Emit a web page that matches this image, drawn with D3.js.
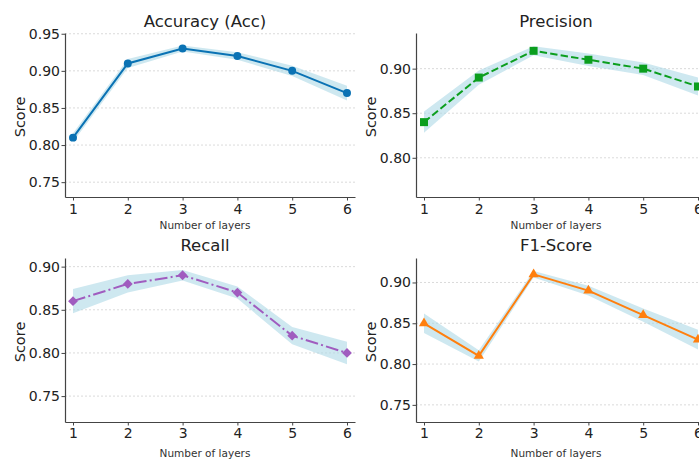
<!DOCTYPE html>
<html lang="en">
<head>
<meta charset="UTF-8">
<title>Metrics vs layers</title>
<script src="https://cdnjs.cloudflare.com/ajax/libs/d3/7.8.5/d3.min.js"></script>
<style>
body { margin: 0; background: #fff; }
text { font-family: "DejaVu Sans", sans-serif; fill: #222; }
.axis path, .axis line { stroke: #444; }
.grid line { stroke: #d0d0d0; stroke-dasharray: 2,2; stroke-width: 0.8; }
</style>
</head>
<body>
<div id="output"></div>
<script>
// data
var layers = [1, 2, 3, 4, 5, 6];

var accMean = [0.81, 0.91, 0.93, 0.92, 0.90, 0.87];
var accStd  = [0.006, 0.006, 0.004, 0.005, 0.007, 0.010];

var precMean = [0.84, 0.89, 0.92, 0.91, 0.90, 0.88];
var precStd  = [0.012, 0.008, 0.005, 0.007, 0.007, 0.010];

var recMean = [0.86, 0.88, 0.89, 0.87, 0.82, 0.80];
var recStd  = [0.014, 0.010, 0.006, 0.007, 0.010, 0.013];

var f1Mean = [0.85, 0.81, 0.91, 0.89, 0.86, 0.83];
var f1Std  = [0.012, 0.007, 0.004, 0.006, 0.008, 0.012];

var accTicks = [0.75, 0.80, 0.85, 0.90, 0.95];
var precTicks = [0.80, 0.85, 0.90];
var recTicks = [0.75, 0.80, 0.85, 0.90];
var f1Ticks = [0.75, 0.80, 0.85, 0.90];

var panels = [
    {title: "Accuracy (Acc)", mean: accMean, std: accStd, ticks: accTicks, ydom: [0.73, 0.951],
     left: 65, top: 33, color: "#0a72b4", dash: null, marker: d3.symbolCircle, msize: 50, rot: 0},
    {title: "Precision", mean: precMean, std: precStd, ticks: precTicks, ydom: [0.756, 0.940],
     left: 416, top: 33, color: "#0b9e1e", dash: "7.4,3.2", marker: d3.symbolSquare, msize: 64, rot: 0},
    {title: "Recall", mean: recMean, std: recStd, ticks: recTicks, ydom: [0.72, 0.91],
     left: 65, top: 258, color: "#a05cbf", dash: "12.8,3.2,2,3.2", marker: d3.symbolSquare, msize: 48, rot: 45},
    {title: "F1-Score", mean: f1Mean, std: f1Std, ticks: f1Ticks, ydom: [0.729, 0.93],
     left: 416, top: 258, color: "#ff7f0e", dash: null, marker: d3.symbolTriangle, msize: 45, rot: 0}
];

var pw = 290, ph = 164;

var svg = d3.select("#output").append("svg")
    .attr("width", 699)
    .attr("height", 459);

panels.forEach(function(p, k) {
    var g = svg.append("g").attr("transform", "translate(" + p.left + "," + p.top + ")");

    var x = d3.scaleLinear().domain([0.854, 6.146]).range([0, pw]);
    var y = d3.scaleLinear().domain(p.ydom).range([ph, 0]);

    var rows = layers.map(function(l, i) {
        return {l: l, m: p.mean[i], s: p.std[i]};
    });

    // grid
    g.append("g").attr("class", "grid")
        .selectAll("line")
        .data(p.ticks)
        .enter().append("line")
        .attr("x1", 0).attr("x2", pw)
        .attr("y1", function(d) { return y(d); })
        .attr("y2", function(d) { return y(d); });

    // band
    var area = d3.area()
        .x(function(d) { return x(d.l); })
        .y0(function(d) { return y(d.m - d.s); })
        .y1(function(d) { return y(d.m + d.s); });
    g.append("path")
        .datum(rows)
        .attr("d", area)
        .attr("fill", "#add8e6")
        .attr("fill-opacity", 0.6);

    // line
    var line = d3.line()
        .x(function(d) { return x(d.l); })
        .y(function(d) { return y(d.m); });
    g.append("path")
        .datum(rows)
        .attr("d", line)
        .attr("fill", "none")
        .attr("stroke", p.color)
        .attr("stroke-width", 2)
        .attr("stroke-dasharray", p.dash);

    // markers
    g.selectAll(".mk")
        .data(rows)
        .enter().append("path")
        .attr("class", "mk")
        .attr("transform", function(d) { return "translate(" + x(d.l) + "," + y(d.m) + ") rotate(" + p.rot + ")"; })
        .attr("d", d3.symbol().type(p.marker).size(p.msize))
        .attr("fill", p.color);

    // axes
    var ya = g.append("g").attr("class", "axis")
        .call(d3.axisLeft(y).tickValues(p.ticks).tickFormat(d3.format(".2f")).tickSize(3.5).tickSizeOuter(0));
    ya.select(".domain").attr("stroke-width", 1.2);
    ya.selectAll("text").style("font-size", "14px").attr("x", -5);

    var xa = g.append("g").attr("class", "axis")
        .attr("transform", "translate(0," + ph + ")")
        .call(d3.axisBottom(x).tickValues(layers).tickFormat(d3.format("d")).tickSize(3.5).tickSizeOuter(0));
    xa.select(".domain").attr("stroke-width", 1.2);
    xa.selectAll("text").style("font-size", "14px").attr("y", k < 2 ? 7.5 : 6);

    // labels
    g.append("text")
        .attr("x", pw / 2 - 5)
        .attr("y", k < 2 ? -6 : -7)
        .attr("text-anchor", "middle")
        .style("font-size", "16.5px")
        .text(p.title);

    g.append("text")
        .attr("transform", "translate(-40," + (ph / 2 + 2) + ") rotate(-90)")
        .attr("text-anchor", "middle")
        .style("font-size", "14.5px")
        .text("Score");

    g.append("text")
        .attr("x", pw / 2 - 5)
        .attr("y", k < 2 ? ph + 32 : ph + 35)
        .attr("text-anchor", "middle")
        .style("font-size", "10.5px")
        .style("fill", "#333")
        .text("Number of layers");
});
</script>
</body>
</html>
